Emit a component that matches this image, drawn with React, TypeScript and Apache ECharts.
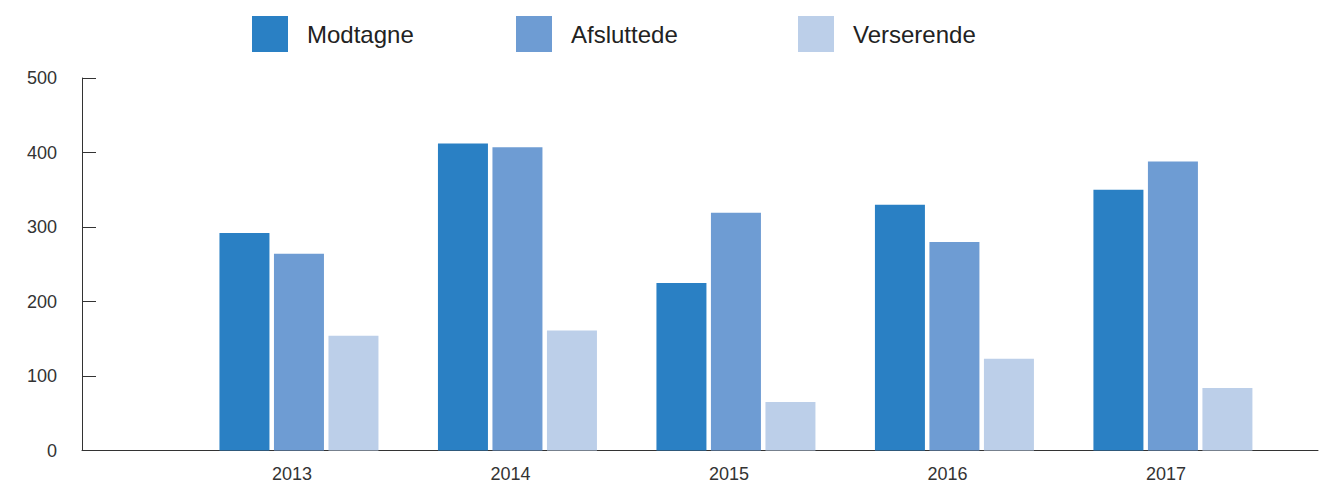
import React, { useEffect, useRef } from "react";
import * as echarts from "echarts";

const years = ["2013", "2014", "2015", "2016", "2017"];
const seriesNames = ["Modtagne", "Afsluttede", "Verserende"];
const modtagne = [292, 412, 225, 330, 350];
const afsluttede = [264, 407, 319, 280, 388];
const verserende = [154, 161, 65, 123, 84];
const yTicks = [0, 100, 200, 300, 400, 500];
const colors = ["#2a80c4", "#6e9cd3", "#bccfe9"];
const legendLefts = [252, 516, 798];

const FONT = "'Liberation Sans', Arial, sans-serif";

export default function App() {
  const ref = useRef<HTMLDivElement>(null);
  useEffect(() => {
    if (!ref.current) return;
    const chart = echarts.init(ref.current, undefined, { renderer: "svg" });
    const values = [modtagne, afsluttede, verserende];
    chart.setOption({
      animation: false,
      backgroundColor: "#ffffff",
      textStyle: { fontFamily: FONT },
      legend: seriesNames.map((name, i) => ({
        data: [name],
        left: legendLefts[i],
        top: 16,
        padding: 0,
        icon: "rect",
        itemWidth: 36,
        itemHeight: 36,
        selectedMode: false,
        textStyle: {
          fontSize: 24,
          color: "#222",
          fontFamily: FONT,
          padding: [0, 0, 0, 14],
        },
      })),
      grid: { left: 82, right: 13, top: 78, bottom: 35.5, containLabel: false },
      xAxis: {
        type: "value",
        min: -0.993,
        max: 4.664,
        splitLine: { show: false },
        axisTick: { show: false },
        axisLine: { show: true, onZero: false, lineStyle: { color: "#333", width: 1 } },
        axisLabel: {
          customValues: years.map((_, i) => i),
          formatter: (v: number) => years[Math.round(v)] ?? "",
          fontSize: 18,
          color: "#333",
          fontFamily: FONT,
          margin: 14,
          padding: [0, 14, 0, 0],
        },
      },
      yAxis: {
        type: "value",
        min: yTicks[0],
        max: yTicks[yTicks.length - 1],
        interval: 100,
        splitLine: { show: false },
        axisLine: { show: true, onZero: false, lineStyle: { color: "#333", width: 1 } },
        axisTick: { show: true, inside: true, length: 14, lineStyle: { color: "#333" } },
        axisLabel: { fontSize: 18, color: "#333", fontFamily: FONT, margin: 25 },
      },
      series: seriesNames.map((name, s) => ({
        name,
        type: "bar",
        barWidth: 50,
        barGap: "9%",
        itemStyle: { color: colors[s] },
        data: values[s].map((v, i) => [i, v]),
      })),
    });
    return () => chart.dispose();
  }, []);
  return (
    <div
      ref={ref}
      style={{ position: "fixed", left: 0, top: 0, width: 1331, height: 486 }}
    />
  );
}
